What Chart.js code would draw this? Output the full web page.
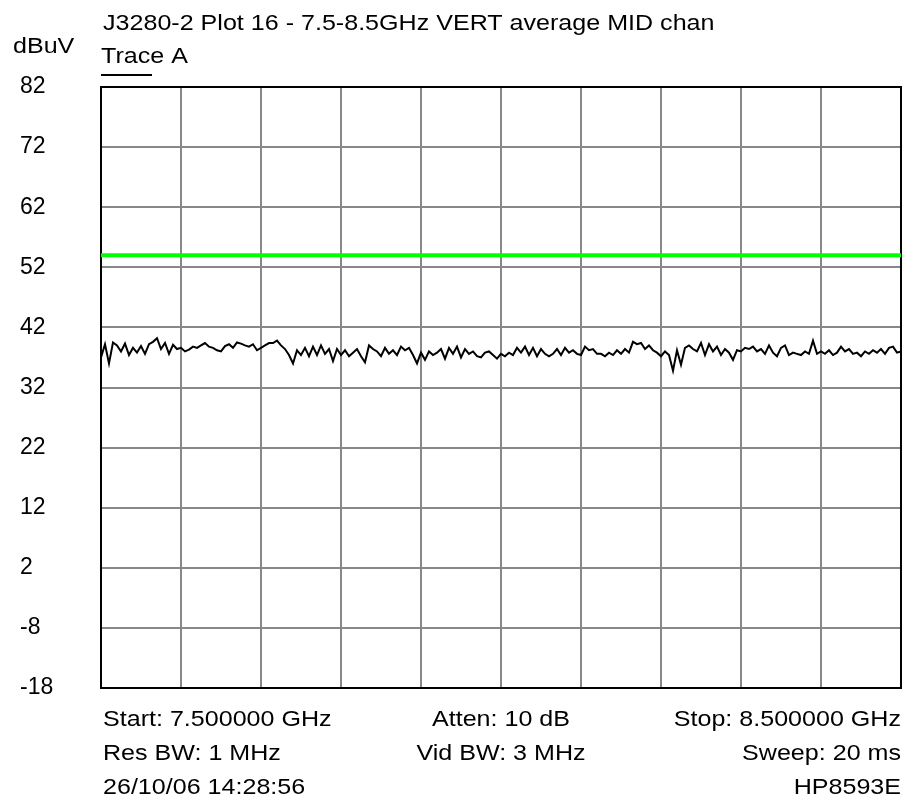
<!DOCTYPE html>
<html>
<head>
<meta charset="utf-8">
<script src="https://cdn.jsdelivr.net/npm/chart.js@4"></script>
<style>
  html, body { margin: 0; padding: 0; background: #fff; }
  #wrap { width: 903px; height: 803px; }
</style>
</head>
<body>
<div id="wrap"><canvas id="plot" width="903" height="803"></canvas></div>
<script>
// analyser screen text
const title = 'J3280-2 Plot 16 - 7.5-8.5GHz VERT average MID chan';
const unitLabel = 'dBuV';
const traceName = 'Trace A';
const footerLeft = ['Start: 7.500000 GHz', 'Res BW: 1 MHz', '26/10/06 14:28:56'];
const footerMid = ['Atten: 10 dB', 'Vid BW: 3 MHz', ''];
const footerRight = ['Stop: 8.500000 GHz', 'Sweep: 20 ms', 'HP8593E'];

// sweep span (MHz) and reference level scale (dBuV)
const startMHz = 7500;
const stopMHz = 8500;
const freqDiv = 100;
const yMin = -18;
const yMax = 82;
const yDiv = 10;

// limit line
const limitLevel = 54;

// trace A, average detector, 201 points across the span
const traceA = [
  37.0, 39.2, 36.0, 39.5, 39.0, 38.0, 39.3, 37.4, 38.6, 37.8, 38.9, 37.6, 39.2, 39.6, 40.2, 38.4, 39.4, 37.6, 39.1, 38.4, 38.6, 38.0, 38.3, 38.8, 38.6,
  39.0, 39.4, 38.8, 38.6, 38.2, 38.0, 38.9, 39.2, 38.6, 39.5, 39.3, 39.0, 38.8, 39.2, 38.2, 38.6, 39.0, 39.4, 39.4, 39.8, 39.0, 38.4, 37.4, 36.0, 38.2,
  37.4, 38.6, 37.2, 38.8, 37.4, 39.0, 37.6, 38.4, 36.4, 38.4, 37.4, 38.2, 37.2, 37.8, 38.4, 37.2, 36.2, 39.0, 38.4, 38.0, 37.2, 38.6, 37.6, 38.2, 37.4,
  38.8, 38.2, 38.6, 37.4, 36.0, 37.8, 36.6, 38.0, 37.4, 37.8, 38.4, 36.8, 38.6, 37.6, 38.8, 37.0, 38.4, 37.6, 38.0, 37.2, 37.0, 37.8, 38.0, 37.4, 36.8,
  37.6, 37.2, 37.8, 37.4, 38.6, 37.8, 38.8, 37.4, 38.6, 37.2, 38.4, 37.6, 37.2, 37.6, 38.4, 37.4, 38.6, 37.8, 38.2, 37.6, 37.4, 38.8, 38.2, 38.4, 37.6,
  37.6, 37.2, 37.8, 37.4, 38.2, 37.6, 38.4, 37.8, 39.6, 39.2, 39.4, 38.4, 39.0, 38.2, 37.8, 37.2, 38.0, 37.4, 34.8, 38.2, 35.8, 38.6, 39.0, 38.4, 38.0,
  39.4, 37.4, 39.2, 38.0, 38.8, 37.4, 38.4, 37.8, 36.6, 38.2, 38.0, 38.6, 38.4, 38.8, 38.0, 38.4, 37.6, 39.0, 37.8, 37.2, 38.6, 39.0, 37.4, 37.8, 37.6,
  37.4, 38.0, 37.6, 39.8, 37.6, 38.0, 37.6, 38.2, 37.4, 37.8, 38.8, 38.0, 38.4, 37.6, 37.8, 37.2, 38.0, 37.6, 38.2, 37.8, 38.4, 37.6, 38.6, 38.8, 37.8,
  38.0
];

const FONT = '"Liberation Sans", Arial, Helvetica, sans-serif';
const TEXT_STRETCH = 1.14;

const binWidth = (stopMHz - startMHz) / (traceA.length - 1);
const tracePoints = traceA.map((v, i) => ({ x: startMHz + i * binWidth, y: v }));
const limitPoints = [{ x: startMHz, y: limitLevel }, { x: stopMHz, y: limitLevel }];

// grid lines on the frame edges are covered by the black border
const gridColor = (ctx) => {
  const n = ctx.scale.ticks.length;
  return ctx.index === 0 || ctx.index === n - 1 ? 'rgba(0,0,0,0)' : '#888888';
};

function stretchedText(ctx, text, x, y, align) {
  ctx.save();
  ctx.translate(x, y);
  ctx.scale(TEXT_STRETCH, 1);
  ctx.textAlign = align;
  ctx.fillText(text, 0, 0);
  ctx.restore();
}

const screenText = {
  id: 'screenText',
  afterDraw(chart) {
    const ctx = chart.ctx;
    const area = chart.chartArea;
    ctx.save();
    ctx.fillStyle = '#000';
    ctx.textBaseline = 'alphabetic';
    ctx.font = '22px ' + FONT;
    stretchedText(ctx, title, 103, 30, 'left');
    stretchedText(ctx, unitLabel, 13, 53, 'left');
    stretchedText(ctx, traceName, 101, 63, 'left');
    ctx.fillRect(101, 74, 51, 2);

    const mid = (area.left + area.right) / 2;
    footerLeft.forEach((t, i) => {
      const y = area.bottom + 38 + i * 34;
      stretchedText(ctx, t, area.left + 2, y, 'left');
      if (footerMid[i]) stretchedText(ctx, footerMid[i], mid, y, 'center');
      stretchedText(ctx, footerRight[i], area.right, y, 'right');
    });
    ctx.restore();
  }
};

new Chart(document.getElementById('plot'), {
  type: 'line',
  data: {
    datasets: [
      {
        label: 'Limit',
        data: limitPoints,
        borderColor: '#00ff00',
        borderWidth: 4,
        pointRadius: 0
      },
      {
        label: traceName,
        data: tracePoints,
        borderColor: '#000000',
        borderWidth: 2,
        pointRadius: 0,
        tension: 0
      }
    ]
  },
  options: {
    responsive: false,
    animation: false,
    devicePixelRatio: 1,
    layout: { padding: { top: 87, bottom: 115, left: 20, right: 2 } },
    plugins: { legend: { display: false }, tooltip: { enabled: false } },
    scales: {
      x: {
        type: 'linear',
        position: 'bottom',
        min: startMHz,
        max: stopMHz,
        ticks: { display: false, stepSize: freqDiv },
        grid: { color: gridColor, lineWidth: 2, drawTicks: false },
        border: { display: true, color: '#000', width: 2 },
        afterFit: (s) => { s.height = 0; }
      },
      xTop: {
        type: 'linear',
        position: 'top',
        min: startMHz,
        max: stopMHz,
        ticks: { display: false },
        grid: { display: false, drawTicks: false },
        border: { display: true, color: '#000', width: 2 },
        afterFit: (s) => { s.height = 0; }
      },
      y: {
        position: 'left',
        min: yMin,
        max: yMax,
        ticks: {
          stepSize: yDiv,
          crossAlign: 'far',
          color: '#000',
          padding: 0,
          font: { family: FONT, size: 23 }
        },
        grid: { color: gridColor, lineWidth: 2, drawTicks: false },
        border: { display: true, color: '#000', width: 2 },
        afterFit: (s) => { s.width = 101 - 20; }
      },
      yRight: {
        position: 'right',
        min: yMin,
        max: yMax,
        ticks: { display: false },
        grid: { display: false, drawTicks: false },
        border: { display: true, color: '#000', width: 2 },
        afterFit: (s) => { s.width = 0; }
      }
    }
  },
  plugins: [screenText]
});
</script>
</body>
</html>
